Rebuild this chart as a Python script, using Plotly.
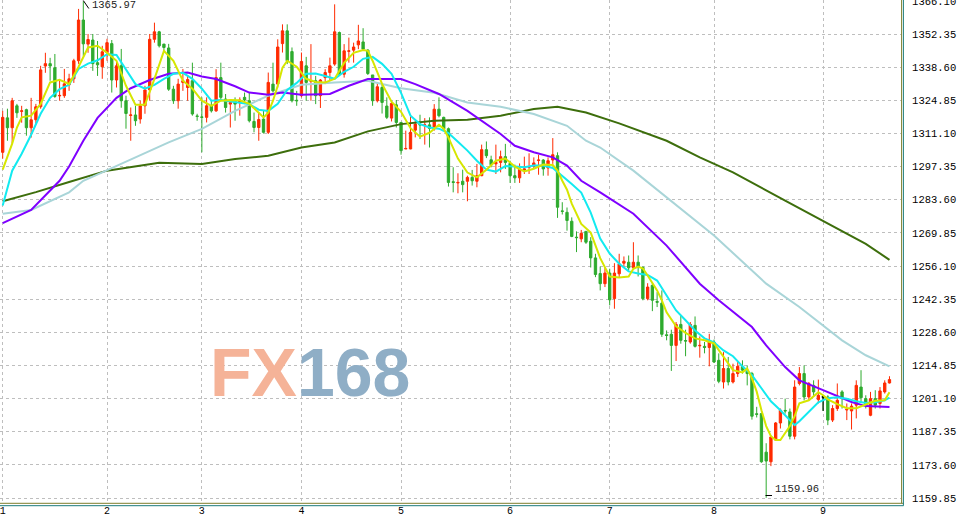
import plotly.graph_objects as go

# ---------------- data ----------------
open_ = [1303.3,1317.6,1313.5,1322.6,1320.3,1321.0,1313.5,1316.8,1322.2,1339.1,
         1340.1,1338.4,1326.7,1326.8,1331.3,1333.8,1341.3,1358.2,1348.2,1349.9,
         1340.5,1338.8,1344.7,1348.4,1333.3,1339.2,1324.7,1318.6,1318.8,1317.1,
         1322.6,1329.2,1350.2,1353.3,1348.2,1346.6,1329.5,1324.7,1332.3,1330.2,
         1333.0,1318.4,1318.0,1317.8,1322.6,1320.5,1334.3,1325.4,1323.3,1324.4,
         1324.0,1326.1,1324.7,1316.1,1313.6,1317.1,1311.6,1331.6,1331.6,1348.4,
         1353.7,1345.1,1324.9,1326.8,1339.2,1332.8,1333.0,1326.8,1334.3,1336.4,
         1339.9,1353.0,1335.7,1345.2,1345.7,1347.9,1349.1,1345.7,1335.4,1324.7,
         1330.2,1322.5,1317.5,1323.0,1315.7,1304.7,1304.7,1312.5,1315.0,1314.5,
         1314.7,1313.0,1321.2,1317.8,1313.1,1291.1,1290.6,1291.3,1291.3,1292.9,
         1291.3,1293.6,1304.4,1300.2,1298.5,1299.1,1301.5,1298.7,1293.6,1292.7,
         1296.0,1297.1,1297.5,1299.9,1300.1,1296.8,1300.1,1301.9,1279.0,1278.4,
         1274.7,1268.1,1267.4,1270.5,1266.4,1259.5,1253.0,1248.8,1253.2,1242.6,
         1252.9,1257.3,1257.7,1255.4,1257.7,1255.6,1242.6,1248.1,1241.4,1240.7,
         1227.6,1227.8,1223.2,1231.9,1225.2,1224.6,1231.5,1223.0,1222.8,1222.3,
         1224.6,1217.0,1208.0,1213.6,1208.0,1211.5,1214.5,1212.9,1211.5,1194.8,
         1194.9,1178.9,1174.9,1183.9,1191.0,1196.2,1195.6,1185.5,1207.4,1211.5,
         1201.8,1206.6,1200.7,1201.8,1201.8,1192.2,1197.0,1203.9,1196.4,1196.0,
         1198.4,1205.9,1201.1,1194.2,1201.1,1199.1,1203.9,1207.6]

high = [1320.5,1321.4,1325.9,1323.4,1322.6,1321.4,1325.9,1323.4,1339.2,1344.6,
        1342.5,1344.1,1333.4,1337.9,1335.9,1342.1,1362.8,1365.97,1352.4,1352.4,
        1349.5,1347.5,1350.4,1349.9,1341.0,1346.2,1326.8,1321.9,1322.6,1324.7,
        1330.9,1352.4,1357.1,1353.7,1348.3,1348.3,1330.9,1333.8,1337.9,1335.0,
        1340.5,1319.3,1326.1,1326.1,1324.7,1337.8,1340.5,1327.5,1325.4,1326.1,
        1326.1,1328.1,1328.1,1319.8,1319.8,1320.5,1336.4,1340.5,1350.2,1356.4,
        1356.4,1346.8,1328.8,1344.7,1342.9,1348.2,1335.0,1333.7,1337.8,1342.6,
        1364.7,1353.4,1348.2,1350.9,1348.8,1356.2,1354.8,1346.1,1335.4,1332.3,
        1331.6,1326.1,1324.7,1325.0,1315.7,1312.3,1318.1,1316.4,1318.9,1317.5,
        1317.8,1323.3,1326.1,1318.1,1313.6,1297.1,1294.6,1296.1,1293.6,1296.0,
        1298.5,1306.5,1307.8,1301.9,1306.5,1304.0,1306.8,1299.8,1298.2,1298.7,
        1301.5,1302.9,1301.2,1302.3,1300.5,1301.2,1309.2,1303.3,1282.6,1280.4,
        1276.3,1270.5,1271.1,1270.5,1268.1,1261.2,1255.9,1255.6,1255.0,1257.3,
        1261.2,1260.1,1260.5,1266.0,1260.5,1255.9,1249.0,1249.0,1245.3,1246.0,
        1229.4,1229.7,1232.9,1235.6,1229.7,1232.9,1235.2,1226.9,1224.6,1228.0,
        1225.6,1219.9,1220.4,1218.4,1215.6,1216.3,1217.0,1214.9,1212.2,1197.7,
        1195.2,1182.6,1185.9,1191.4,1197.0,1201.1,1197.0,1208.7,1214.2,1214.9,
        1208.0,1208.7,1209.0,1202.5,1202.5,1198.4,1207.4,1204.6,1199.1,1199.1,
        1208.7,1212.9,1202.5,1203.9,1204.6,1205.9,1208.7,1210.4]

low = [1300.7,1308.1,1306.9,1317.6,1315.6,1310.2,1309.4,1315.2,1321.4,1336.3,
       1333.0,1325.9,1324.7,1325.9,1328.8,1332.1,1340.0,1343.3,1344.6,1337.1,
       1335.0,1333.8,1341.3,1328.1,1330.2,1321.8,1313.1,1308.1,1314.3,1315.2,
       1319.3,1324.7,1348.8,1346.8,1345.4,1328.8,1323.4,1321.4,1328.8,1324.7,
       1318.5,1316.4,1303.3,1315.7,1319.8,1320.1,1324.7,1319.8,1313.6,1316.4,
       1318.5,1323.3,1315.7,1311.6,1308.1,1311.1,1310.9,1328.1,1330.2,1344.7,
       1339.9,1324.0,1322.6,1326.1,1324.7,1324.7,1323.3,1321.7,1331.6,1333.0,
       1339.2,1335.0,1334.3,1340.5,1340.5,1346.1,1345.4,1335.4,1322.6,1324.0,
       1319.4,1317.1,1316.1,1313.6,1302.3,1304.6,1304.6,1309.5,1308.8,1306.5,
       1305.3,1312.3,1317.8,1312.3,1289.1,1286.7,1286.3,1286.7,1283.0,1289.5,
       1288.8,1293.4,1300.9,1297.1,1294.3,1295.0,1296.4,1290.6,1290.6,1290.6,
       1294.3,1294.3,1296.4,1294.0,1293.6,1293.6,1298.5,1276.1,1277.5,1270.8,
       1268.1,1261.9,1266.0,1265.3,1255.5,1251.5,1246.0,1247.4,1239.8,1238.4,
       1251.5,1255.9,1254.3,1254.6,1251.8,1241.9,1241.9,1237.4,1239.1,1226.7,
       1225.3,1212.6,1216.7,1223.9,1218.7,1223.9,1222.3,1218.1,1219.9,1214.5,
       1215.9,1207.5,1205.3,1206.6,1207.4,1210.1,1211.5,1206.6,1192.4,1193.3,
       1174.5,1159.96,1173.1,1183.6,1188.7,1194.9,1184.2,1184.2,1206.6,1200.4,
       1200.4,1201.8,1199.1,1196.0,1190.1,1191.4,1196.0,1197.0,1192.2,1188.3,
       1192.9,1199.7,1197.0,1193.8,1197.0,1197.0,1203.2,1207.4]

close = [1317.8,1313.5,1324.7,1319.7,1320.5,1313.5,1316.8,1322.2,1337.5,1340.1,
         1339.1,1326.5,1326.9,1331.7,1333.8,1341.3,1358.2,1348.3,1350.1,1340.1,
         1339.6,1345.0,1348.8,1333.3,1339.2,1324.7,1319.4,1318.8,1316.4,1322.6,
         1329.2,1350.2,1353.3,1347.5,1346.8,1329.5,1324.7,1331.6,1333.0,1333.5,
         1319.2,1318.2,1317.8,1322.6,1320.5,1334.3,1326.1,1321.9,1324.0,1323.3,
         1325.0,1325.0,1316.4,1313.6,1316.9,1311.6,1332.3,1328.8,1347.0,1353.7,
         1341.3,1324.7,1324.7,1341.0,1332.3,1333.0,1326.8,1333.3,1336.4,1339.2,
         1353.3,1335.7,1345.4,1345.4,1347.0,1349.5,1346.1,1336.0,1324.7,1330.5,
         1324.0,1317.8,1323.6,1315.7,1304.0,1304.9,1311.6,1315.0,1314.7,1314.7,
         1313.2,1321.2,1318.5,1313.0,1290.8,1290.8,1290.8,1289.9,1292.9,1291.5,
         1293.6,1304.4,1301.9,1298.1,1299.1,1301.5,1299.1,1293.6,1292.7,1296.4,
         1296.4,1297.3,1298.9,1300.1,1296.4,1299.8,1302.3,1280.5,1278.8,1275.0,
         1268.4,1267.9,1269.7,1266.0,1259.5,1252.6,1248.8,1253.2,1242.1,1253.2,
         1257.0,1258.1,1255.4,1257.7,1255.6,1242.6,1247.4,1241.9,1241.1,1227.8,
         1227.3,1223.2,1231.9,1225.3,1225.0,1231.9,1222.8,1223.2,1222.3,1224.6,
         1216.3,1208.3,1213.6,1208.0,1211.5,1214.5,1212.9,1211.5,1193.8,1194.6,
         1174.9,1175.2,1185.2,1191.0,1196.3,1196.0,1185.5,1205.9,1211.5,1201.8,
         1207.4,1203.9,1202.5,1201.8,1192.2,1197.0,1200.4,1201.1,1196.6,1198.0,
         1206.6,1201.5,1198.4,1201.1,1198.4,1204.3,1207.6,1209.0]

# moving-average lines, sampled at candle indices
ma_yellow_x = [0,1,2,3,4,6,8,10,12,14,16,18,20,22,24,26,28,30,31,32,34,36,38,40,42,44,46,48,50,52,
               54,55,56,57,58,59,60,62,64,66,68,70,72,74,76,77,78,80,82,84,86,88,90,92,93,94,96,98,
               100,102,104,106,108,110,112,114,116,117,118,119,120,121,122,124,126,128,130,132,133,
               134,135,136,138,139,140,142,144,146,148,150,152,154,156,157,158,159,160,161,162,163,
               164,165,166,167,168,170,171,172,173,174,176,178,180,182,184,186,187]
ma_yellow_y = [1296.1,1301.1,1306.9,1313.6,1317.8,1318.5,1323.4,1332.3,1333.4,1331.7,1338.8,1346.8,
               1347.5,1344.6,1341.3,1330.9,1323.0,1323.0,1328.0,1333.8,1345.4,1341.3,1333.0,1329.7,
               1324.7,1322.6,1324.7,1325.0,1324.9,1323.4,1319.7,1317.8,1319.7,1324.7,1330.9,1338.4,
               1341.3,1338.8,1333.8,1332.5,1332.3,1333.8,1340.4,1344.6,1345.7,1345.4,1341.3,1331.7,
               1324.3,1320.1,1313.3,1309.8,1311.4,1314.7,1313.1,1309.4,1300.7,1294.9,1292.9,1296.1,
               1299.8,1300.7,1297.4,1295.4,1296.5,1298.2,1298.0,1295.7,1291.5,1287.8,1282.0,1277.9,
               1273.6,1270.0,1259.4,1251.8,1251.4,1251.8,1255.0,1255.9,1255.1,1252.2,1246.0,1241.9,
               1236.9,1231.1,1228.4,1226.1,1225.3,1224.0,1218.7,1212.9,1212.0,1213.6,1209.5,1204.0,
               1196.3,1189.7,1185.5,1183.9,1183.9,1186.8,1189.7,1193.8,1199.2,1200.4,1202.1,1203.8,
               1202.5,1200.8,1198.8,1197.1,1197.1,1198.8,1200.2,1200.4,1203.8]

ma_cyan_x = [0,2,4,6,8,10,12,14,16,18,20,22,24,26,28,30,32,34,36,38,40,42,44,46,48,50,52,54,56,58,
             60,62,64,66,68,70,72,74,76,78,80,82,84,86,88,90,92,94,96,98,100,102,104,106,108,110,
             112,114,116,118,120,122,124,126,128,130,132,134,136,138,140,142,144,146,148,150,152,
             154,156,158,160,162,164,166,167,168,170,172,174,176,178,180,182,184,186,187]
ma_cyan_y = [1281.2,1295.7,1302.7,1310.6,1319.3,1325.9,1329.5,1331.3,1337.9,1340.1,1341.5,1344.0,
             1343.7,1337.9,1331.6,1329.7,1331.3,1333.8,1335.9,1336.3,1333.8,1329.7,1324.7,1325.0,
             1324.3,1323.9,1323.3,1321.0,1320.5,1323.4,1329.2,1332.1,1335.9,1336.0,1335.0,1333.8,
             1336.7,1338.8,1342.1,1342.9,1340.0,1335.9,1328.0,1318.5,1315.0,1313.6,1313.1,1311.3,
             1307.7,1304.0,1299.8,1296.1,1295.3,1297.6,1297.4,1297.1,1297.8,1297.8,1296.8,1293.6,
             1290.2,1286.6,1278.3,1267.5,1261.3,1257.1,1253.9,1253.0,1252.4,1250.1,1243.9,1237.7,
             1233.6,1229.4,1226.1,1224.5,1221.1,1218.7,1214.5,1210.8,1205.4,1200.0,1196.3,1192.2,
             1190.1,1191.7,1195.5,1199.6,1201.3,1201.7,1201.1,1200.0,1199.3,1199.6,1200.4,1201.5]

ma_purple_x = [0,6,12,14,17,20,24,27,31,35,39,42,45,49,52,56,59,63,69,73,77,84,87,92,98,101,105,
               108,112,116,119,122,126,133,140,147,151,158,161,165,168,173,179,182,187]
ma_purple_y = [1273.9,1279.4,1291.5,1297.4,1308.1,1317.6,1325.9,1329.9,1333.3,1335.9,1336.4,1334.8,
               1333.7,1330.7,1328.1,1327.2,1328.1,1327.2,1327.5,1330.9,1333.7,1333.7,1331.6,1327.5,
               1320.5,1316.4,1310.9,1306.0,1303.3,1301.2,1297.8,1291.5,1286.7,1277.8,1264.6,1248.8,
               1241.9,1230.8,1223.2,1214.2,1208.7,1204.6,1199.7,1198.0,1197.6]

ma_lightblue_x = [0,6,14,17,21,28,35,42,49,56,63,70,77,84,91,98,105,112,119,123,126,133,140,150,
                  161,168,177,182,187]
ma_lightblue_y = [1277.8,1279.4,1286.7,1291.5,1295.0,1301.2,1307.4,1313.0,1320.5,1326.8,1331.3,
                  1332.3,1333.0,1329.9,1328.0,1324.0,1322.2,1319.2,1314.3,1308.1,1305.3,1295.7,
                  1284.6,1268.8,1248.8,1239.1,1225.3,1219.1,1214.5]

ma_darkgreen_x = [0,7,14,22,33,42,49,56,63,70,77,84,91,98,105,112,117,123,130,140,147,154,165,175,
                  182,187]
ma_darkgreen_y = [1283.0,1286.8,1291.0,1295.7,1299.0,1298.5,1300.5,1301.9,1305.3,1307.4,1312.0,
                  1315.0,1316.4,1316.8,1318.5,1321.3,1322.2,1319.8,1315.3,1308.1,1301.2,1295.0,
                  1283.3,1272.9,1265.3,1258.7]

day_tick_idx = [0, 22, 42, 63, 84, 107, 128, 150, 173]
day_labels = ["1", "2", "3", "4", "5", "6", "7", "8", "9"]

price_ticks = [1159.85, 1173.60, 1187.35, 1201.10, 1214.85, 1228.60, 1242.35, 1256.10,
               1269.85, 1283.60, 1297.35, 1311.10, 1324.85, 1338.60, 1352.35, 1366.10]
price_labels = ["%.2f" % v for v in price_ticks]

high_label = "1365.97"
low_label = "1159.96"

# ---------------- styling ----------------
RED = "#FF2A00"
GREEN = "#2EAB2E"
GRID = "#BEBEBE"
MONO = "Liberation Mono"

xidx = list(range(len(open_)))

fig = go.Figure()

line_specs = [
    (ma_darkgreen_x, ma_darkgreen_y, "#3D6E0C"),
    (ma_lightblue_x, ma_lightblue_y, "#A9D5D8"),
    (ma_purple_x, ma_purple_y, "#7F00FF"),
    (ma_cyan_x, ma_cyan_y, "#12EAF0"),
    (ma_yellow_x, ma_yellow_y, "#D6E600"),
]
for xs, ys, col in line_specs:
    fig.add_trace(go.Scatter(x=xs, y=ys, mode="lines", line=dict(color=col, width=2),
                             hoverinfo="skip"))

fig.add_trace(go.Candlestick(
    x=xidx, open=open_, high=high, low=low, close=close,
    increasing=dict(line=dict(color=RED, width=1), fillcolor=RED),
    decreasing=dict(line=dict(color=GREEN, width=1), fillcolor=GREEN),
    whiskerwidth=0, hoverinfo="skip"))

# doji drawn in black
k = 173
fig.add_trace(go.Candlestick(
    x=[k], open=[open_[k]], high=[high[k]], low=[low[k]], close=[close[k]],
    increasing=dict(line=dict(color="black", width=1), fillcolor="black"),
    decreasing=dict(line=dict(color="black", width=1), fillcolor="black"),
    whiskerwidth=0, hoverinfo="skip"))

PW, PH = 901.0, 503.0  # plot area in px

def px(x):
    return x / PW

def py(y):
    return 1 - y / PH

shapes = [
    # white backing of the watermark
    dict(type="rect", xref="paper", yref="paper", x0=px(195), x1=px(424), y0=py(422), y1=py(317),
         fillcolor="white", line=dict(width=0), layer="between"),
    # frame lines
    dict(type="line", xref="paper", yref="paper", x0=0, x1=px(903.5), y0=py(503.3), y1=py(503.3),
         line=dict(color="#7E7E2C", width=1)),
    dict(type="line", xref="paper", yref="paper", x0=0, x1=px(903.5), y0=py(505.7), y1=py(505.7),
         line=dict(color="#1B7B7B", width=1)),
    dict(type="line", xref="paper", yref="paper", x0=px(901.6), x1=px(901.6), y0=py(0), y1=py(503.3),
         line=dict(color="#7E7E2C", width=1)),
    dict(type="line", xref="paper", yref="paper", x0=px(903.4), x1=px(903.4), y0=py(0), y1=py(505.7),
         line=dict(color="#1B7B7B", width=1)),
    # high pointer
    dict(type="line", xref="paper", yref="paper", x0=px(83.3), x1=px(88.8), y0=py(0.5), y1=py(8.5),
         line=dict(color="black", width=1)),
    # low bracket
    dict(type="line", xref="paper", yref="paper", x0=px(765.5), x1=px(772), y0=py(495.5), y1=py(495.5),
         line=dict(color="black", width=1)),
]

annotations = [
    dict(xref="paper", yref="paper", x=px(310), y=py(371.5), xanchor="center", yanchor="middle",
         text="<b><span style='color:#F5B398'>FX</span><span style='color:#8FAEC6'>168</span></b>",
         showarrow=False, font=dict(family="Liberation Sans", size=68)),
    dict(xref="paper", yref="paper", x=px(89.5), y=py(5), xanchor="left", yanchor="middle",
         text=high_label, showarrow=False, font=dict(family=MONO, size=10.5, color="#222222")),
    dict(xref="paper", yref="paper", x=px(772.5), y=py(488.5), xanchor="left", yanchor="middle",
         text=low_label, showarrow=False, font=dict(family=MONO, size=10.5, color="#222222")),
]

fig.update_layout(
    width=957, height=518,
    margin=dict(l=0, r=56, t=0, b=15, autoexpand=False),
    paper_bgcolor="white", plot_bgcolor="white",
    showlegend=False,
    font=dict(family=MONO, size=10.5, color="black"),
    shapes=shapes, annotations=annotations,
    xaxis=dict(range=[-0.569, 189.43], tickmode="array", tickvals=day_tick_idx, ticktext=day_labels,
               showgrid=True, gridcolor=GRID, gridwidth=1, griddash="3px,3px",
               zeroline=False, showline=False, ticks="", ticklabeloverflow="allow",
               tickfont=dict(family=MONO, size=10),
               rangeslider=dict(visible=False), fixedrange=True, automargin=False),
    yaxis=dict(side="right", range=[1157.8, 1366.5], tickmode="array", tickvals=price_ticks,
               ticktext=price_labels, showgrid=True, gridcolor=GRID, gridwidth=1,
               griddash="3px,3px", zeroline=False, showline=False, ticks="outside", ticklen=8,
               tickcolor="rgba(0,0,0,0)", ticklabeloverflow="allow", fixedrange=True,
               automargin=False),
)

fig.write_html("out.html", config={"displayModeBar": False},
               post_script="document.body.style.margin='0';document.body.style.overflow='hidden';")
